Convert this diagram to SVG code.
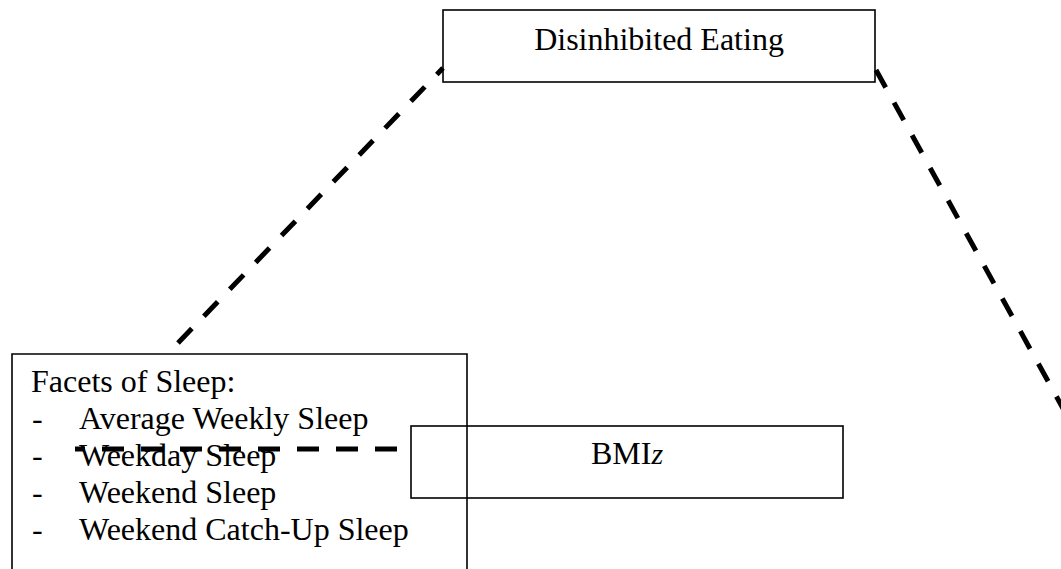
<svg xmlns="http://www.w3.org/2000/svg" width="1061" height="569" viewBox="0 0 1061 569">
<style>
.box{fill:none;stroke:#000;stroke-width:1.6}
.t{font-family:"Liberation Serif","Times New Roman",serif;font-size:32px;fill:#000}
.dash{fill:none;stroke:#000;stroke-width:5}
</style>
<rect width="1061" height="569" fill="#fff"/>
<g id="connectors">
<path class="dash" d="M178,343 L443,68" stroke-dasharray="20 17.3"/>
<path class="dash" d="M876,70 L1070,421" stroke-dasharray="20 17.3"/>
<path class="dash" d="M397,449 L75,449" stroke-dasharray="22 17"/>
</g>
<g id="disinhibited-eating">
<rect class="box" x="443" y="10" width="432" height="72"/>
<text class="t" x="659" y="50" text-anchor="middle">Disinhibited Eating</text>
</g>
<g id="facets-of-sleep">
<path class="box" d="M12,575 L12,354 L467,354 L467,575"/>
<text class="t" x="31" y="392">Facets of Sleep:</text>
<text class="t" x="32" y="429">-</text>
<text class="t" x="79" y="429">Average Weekly Sleep</text>
<text class="t" x="32" y="466">-</text>
<text class="t" x="79" y="466">Weekday Sleep</text>
<text class="t" x="32" y="503">-</text>
<text class="t" x="79" y="503">Weekend Sleep</text>
<text class="t" x="32" y="540">-</text>
<text class="t" x="79" y="540">Weekend Catch-Up Sleep</text>
</g>
<g id="bmiz">
<rect class="box" x="411" y="426" width="432" height="72"/>
<text class="t" x="627" y="464" text-anchor="middle">BMI<tspan font-style="italic" font-size="30">z</tspan></text>
</g>
</svg>
